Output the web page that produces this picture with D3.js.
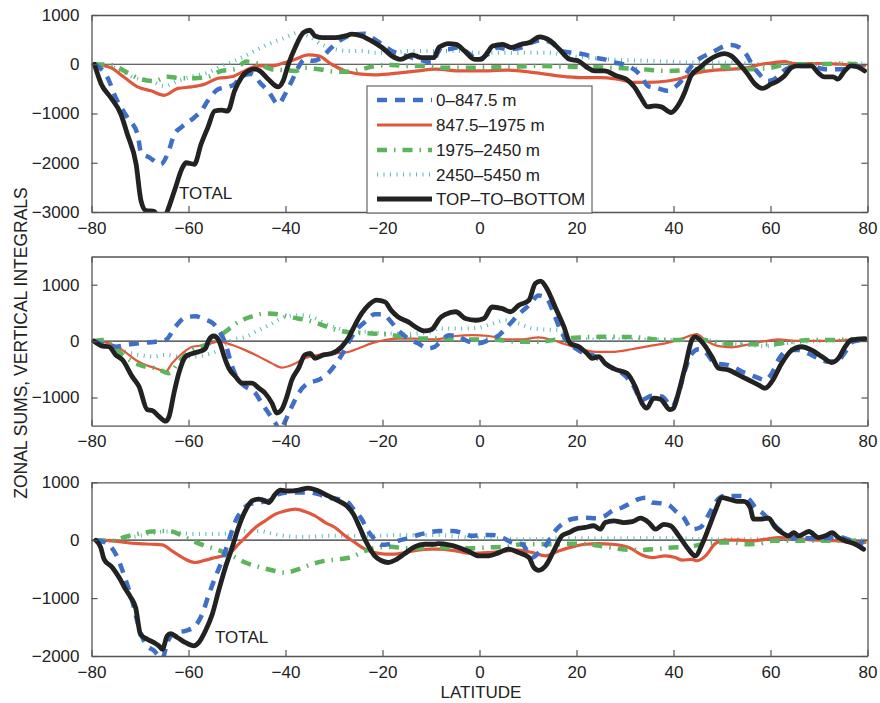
<!DOCTYPE html>
<html>
<head>
<meta charset="utf-8">
<script src="https://cdn.jsdelivr.net/npm/d3@7"></script>
<style>
  html, body { margin: 0; padding: 0; background: #ffffff; }
  svg { display: block; font-family: "Liberation Sans", Arial, Helvetica, sans-serif; }
</style>
</head>
<body>
<svg id="chart" width="880" height="703"></svg>
<script>
// ---------------- DATA ----------------
const seriesNames = ["0\u2013847.5 m", "847.5\u20131975 m", "1975\u20132450 m", "2450\u20135450 m", "TOP\u2013TO\u2013BOTTOM"];
const xTicks = [-80, -60, -40, -20, 0, 20, 40, 60, 80];
const p1Ticks = [1000, 0, -1000, -2000, -3000];
const p2Ticks = [1000, 0, -1000];
const p3Ticks = [1000, 0, -1000, -2000];
const p1Domain = [-3000, 1000];
const p2Domain = [-1500, 1500];
const p3Domain = [-2000, 1000];

// Panel 1 [latitude, value]
const p1Blue = [[-79.4,0],[-76.7,-270],[-75,-680],[-72.6,-1080],[-70.5,-1420],[-69.8,-1790],[-68.1,-1890],[-65.7,-2030],[-64.3,-1820],[-62.9,-1420],[-61.5,-1280],[-58.8,-1080],[-57.4,-950],[-56,-740],[-53.9,-510],[-51.9,-460],[-50.5,-405],[-49.1,-240],[-47,-200],[-45,-405],[-43.6,-540],[-41.5,-810],[-40.1,-610],[-38.7,-340],[-37.4,-70],[-36,100],[-34.3,70],[-32.6,135],[-30.5,340],[-28.4,505],[-25.7,610],[-23.6,620],[-22.2,540],[-20.1,405],[-18.1,270],[-16,200],[-13.9,135],[-11.9,80],[-9.8,35],[-8.4,270],[-7.9,340],[-6.5,305],[-4.5,340],[-2.4,235],[-0.3,100],[1.7,200],[3.8,340],[5.8,305],[8.6,340],[10.7,440],[12.7,490],[14.8,440],[16.8,270],[19.2,235],[21.6,200],[23.7,135],[25.8,100],[27.8,35],[29.6,0],[31.3,-70],[33.3,-235],[34.7,-440],[36.8,-490],[38.8,-540],[40.2,-470],[41.6,-340],[43,-135],[44.3,35],[46.4,170],[48.5,270],[50.5,370],[51.9,390],[53.6,340],[55,200],[56.4,-35],[57.7,-200],[59.5,-340],[60.8,-305],[62.2,-170],[63.9,-70],[66.3,-35],[68.4,-35],[71.1,-100],[73.2,-100],[75.3,-100],[77.3,-35],[79.4,-70]];
const p1Red = [[-79.4,0],[-76,-70],[-73.2,-270],[-70.5,-460],[-67.7,-540],[-65,-630],[-62.2,-490],[-59.4,-460],[-56.7,-405],[-53.9,-285],[-51.2,-255],[-48.4,-135],[-45.7,-35],[-42.9,-35],[-40.1,35],[-38,100],[-35.3,190],[-33.2,170],[-30.5,0],[-27.7,-135],[-24.3,-200],[-21.5,-215],[-18.8,-200],[-16,-170],[-12.6,-135],[-9.1,-100],[-3.8,-135],[-0.3,-135],[5.8,-120],[11.3,-170],[16.2,-235],[21,-270],[25.1,-270],[28.5,-305],[32,-370],[34.7,-370],[38.8,-340],[41.6,-285],[45,-170],[48.5,-120],[51.9,-100],[55.3,-70],[58.1,0],[60.8,35],[62.9,55],[64.9,15],[67.7,15],[71.1,15],[74.6,0],[79.4,-35]];
const p1Green = [[-79.4,0],[-76,-15],[-72.6,-170],[-69.8,-305],[-67,-340],[-64.3,-255],[-61.5,-285],[-58.8,-285],[-56,-255],[-53.2,-135],[-50.5,-100],[-48,55],[-45.7,15],[-42.9,-100],[-40.1,-120],[-38,-135],[-36,-70],[-33.2,-100],[-29.8,-150],[-27,-150],[-24.3,-100],[-21.5,-35],[-18.1,-15],[-14.6,-35],[-10.5,-35],[-7.9,-70],[-1,-70],[5.8,-55],[12.7,-35],[19.6,-55],[26.5,-70],[33.3,-100],[38.8,-135],[44.3,-100],[49.8,-55],[55.3,-100],[60.1,-70],[63.6,0],[69.1,0],[74.6,15],[79.4,-15]];
const p1Cyan = [[-79.4,0],[-75.3,-70],[-71.2,-270],[-67.7,-340],[-65,-440],[-62.2,-340],[-58.8,-235],[-56,-170],[-53.2,-35],[-50.5,70],[-47,235],[-43.6,405],[-40.1,540],[-37.4,640],[-35.3,575],[-32.6,405],[-29.8,305],[-27,270],[-24.3,270],[-21.5,235],[-18.1,235],[-14.6,270],[-10.5,270],[-7.9,270],[-3.8,270],[-1,235],[2.4,235],[5.8,235],[10,235],[14.1,235],[18.2,170],[22.3,135],[26.5,100],[30.6,80],[34.7,70],[38.8,55],[43,35],[47.1,35],[51.2,35],[55.3,15],[60.1,0],[64.9,0],[70.4,0],[74.6,15],[79.4,15]];
const p1Black = [[-79.4,0],[-78,-400],[-76,-680],[-74,-1000],[-72.6,-1420],[-70.8,-2030],[-69.8,-2770],[-68.8,-2970],[-67,-2990],[-65.7,-3300],[-64.3,-2970],[-62.9,-2570],[-61.2,-2090],[-60.5,-2000],[-58.8,-2030],[-57.4,-1620],[-56,-1280],[-54.6,-950],[-53.2,-930],[-51.9,-950],[-50.5,-540],[-49.1,-270],[-47.7,-135],[-46.3,-100],[-45.3,-135],[-43.6,-300],[-41.5,-460],[-40.5,-340],[-39.4,0],[-38,340],[-36.3,640],[-35,690],[-33.9,575],[-32.2,540],[-29.8,540],[-27.7,575],[-26.3,610],[-24.3,575],[-22.2,470],[-20.1,340],[-18.1,170],[-16.3,100],[-13.9,190],[-11.9,135],[-9.4,135],[-8.4,340],[-7.9,370],[-6.5,420],[-4.8,405],[-3.1,270],[-1,100],[0.3,100],[1.4,200],[2.7,370],[4.8,405],[6.5,340],[8.6,405],[10.3,440],[12.4,555],[14.4,490],[16.5,300],[18.6,100],[20.3,70],[22.3,-70],[23.7,-135],[25.8,-135],[28.2,-235],[30.2,-300],[32,-470],[33.3,-680],[34.7,-865],[36.1,-845],[37.5,-865],[39.5,-980],[40.9,-845],[42.3,-575],[43.6,-235],[45.4,-70],[47.1,70],[48.8,170],[50.5,215],[51.9,170],[53.6,0],[55.3,-200],[56.7,-390],[58.4,-490],[60.1,-405],[61.5,-340],[62.9,-235],[64.3,-70],[65.6,-35],[68.4,-35],[69.8,-170],[71.1,-255],[72.9,-255],[73.9,-300],[75.3,-135],[76.6,-35],[78,-55],[79.4,-135]];

// Panel 2
const p2Blue = [[-79.5,0],[-77,-70],[-75,-100],[-73,-70],[-70.2,-40],[-66.8,-10],[-64.7,20],[-62.7,255],[-60.6,420],[-58.6,440],[-56.5,380],[-55.1,325],[-53.8,195],[-52.4,-40],[-51,-455],[-49.7,-690],[-48.3,-805],[-46.2,-925],[-44.9,-1100],[-43.5,-1275],[-42.1,-1450],[-41.1,-1600],[-40.1,-1425],[-38.7,-1160],[-37.3,-925],[-35.3,-745],[-33.2,-690],[-31.2,-570],[-29.8,-425],[-28.4,-245],[-27.1,-40],[-25.7,165],[-23.6,340],[-21.6,475],[-19.9,475],[-18.2,340],[-16.8,195],[-14.7,45],[-12.7,-40],[-10.6,-130],[-9.2,-100],[-8.4,-40],[-6.3,105],[-4.3,75],[-2.2,-10],[-0.1,-40],[1.9,20],[4,105],[6,280],[8.1,475],[10.2,635],[12.2,810],[13.9,750],[15.3,490],[16.7,195],[18.1,-10],[19.8,-130],[21.8,-220],[23.2,-245],[25.3,-365],[27.3,-480],[29.4,-570],[31.4,-745],[33.5,-1040],[35.6,-970],[37.6,-980],[39.7,-1160],[41,-925],[42.4,-510],[43.8,-220],[45.2,-145],[46.5,-190],[48.6,-395],[51.3,-425],[54.1,-540],[56.8,-630],[58.9,-690],[60.3,-570],[61.6,-335],[63.7,-160],[65.8,-160],[67.8,-220],[69.9,-305],[71.9,-365],[74,-335],[75.7,-160],[77,-10],[79.5,20]];
const p2Red = [[-79.5,0],[-76.4,-40],[-73.6,-160],[-70.9,-335],[-68.8,-425],[-66.8,-480],[-64.7,-540],[-63.4,-395],[-61.3,-220],[-59.2,-100],[-56.5,-70],[-53.8,-10],[-51,-70],[-48.3,-160],[-45.5,-275],[-42.8,-395],[-40.8,-470],[-38.7,-425],[-36,-305],[-33.2,-245],[-30.5,-220],[-27.7,-205],[-25,-130],[-22.3,-40],[-19.5,20],[-16.8,45],[-13.3,45],[-9.2,30],[-4.9,90],[-1.5,105],[1.9,90],[5.4,30],[8.8,30],[12.2,65],[15,20],[17.7,-55],[20.5,-130],[23.9,-190],[27.3,-190],[31.4,-145],[34.9,-90],[38.3,-40],[41,20],[43.8,105],[44.8,125],[46.5,20],[49.3,-90],[52,-110],[54.8,-70],[58.2,-10],[61.6,30],[65.1,5],[68.5,5],[72.6,5],[76,20],[79.5,30]];
const p2Green = [[-79.5,0],[-77,20],[-74.3,-190],[-71.6,-365],[-68.8,-455],[-66.8,-480],[-64,-570],[-62,-365],[-59.2,-160],[-56.5,-70],[-54.5,20],[-52.4,165],[-49.7,340],[-46.9,440],[-44.2,490],[-41.4,475],[-38.7,420],[-36,380],[-33.2,310],[-30.5,225],[-27.7,165],[-25,145],[-22.3,135],[-19.5,120],[-16.8,90],[-12.7,45],[-9.2,45],[-4.3,30],[0,30],[4,20],[8.1,-10],[12.2,-10],[16.3,30],[20.5,65],[24.6,75],[28.7,75],[32.8,65],[36.2,30],[40.4,20],[43.8,30],[46.5,20],[50,-40],[53.4,-55],[56.8,-55],[60.3,-55],[64.4,-10],[68.5,20],[72.6,20],[76.7,30],[79.5,30]];
const p2Cyan = [[-79.5,0],[-76.4,-70],[-73,-190],[-70.2,-245],[-67.5,-275],[-64.7,-245],[-62,-275],[-59.2,-275],[-56.5,-245],[-53.8,-160],[-51,20],[-48.3,75],[-45.5,195],[-42.8,310],[-40.1,430],[-37.3,460],[-34.6,430],[-31.8,310],[-29.1,225],[-26.4,165],[-23.6,165],[-20.9,145],[-18.2,135],[-15.4,125],[-12.7,135],[-9.9,165],[-8.4,225],[-5.6,225],[-2.9,225],[0,240],[2.6,310],[5.4,370],[8.1,310],[10.8,225],[13.6,205],[16.3,195],[19.1,45],[21.8,30],[25.9,30],[30.1,30],[34.2,30],[38.3,20],[42.4,20],[46.5,20],[50.7,-40],[54.8,-70],[58.9,-90],[63,-40],[67.1,-10],[71.2,5],[75.4,20],[79.5,30]];
const p2Black = [[-79.5,0],[-77.7,-90],[-76.4,-100],[-75,-245],[-73.6,-335],[-71.6,-630],[-70.2,-805],[-68.5,-1215],[-67.5,-1230],[-66.1,-1335],[-64.7,-1420],[-64,-1335],[-63,-925],[-62,-570],[-60.6,-275],[-59.2,-220],[-57.9,-190],[-56.5,-130],[-55.8,20],[-54.8,90],[-53.8,20],[-52.4,-335],[-51.7,-480],[-50.3,-630],[-48.9,-745],[-46.9,-745],[-45.5,-835],[-44.2,-925],[-42.8,-1100],[-41.8,-1275],[-40.8,-1215],[-39.7,-980],[-38.7,-690],[-37.3,-480],[-36,-245],[-34.9,-220],[-33.9,-305],[-32.2,-245],[-30.5,-220],[-28.4,-100],[-27.1,45],[-25.7,280],[-24.3,490],[-22.9,635],[-21.2,725],[-19.5,695],[-18.2,545],[-16.8,430],[-14.7,340],[-12.7,225],[-11.3,180],[-9.9,205],[-8.9,310],[-8.4,380],[-7,475],[-4.9,520],[-2.9,400],[-0.8,370],[0.9,400],[2.6,605],[4.7,575],[6.4,520],[8.1,635],[10.2,725],[11.5,1020],[12.6,1065],[13.9,930],[15.6,605],[17.4,255],[18.7,-40],[20.5,-100],[22.2,-220],[23.2,-305],[24.6,-275],[25.9,-395],[28,-500],[30.4,-570],[32.1,-805],[33.5,-1100],[34.5,-1190],[35.9,-1010],[37.3,-1030],[39.3,-1215],[40,-1190],[41,-925],[42.4,-455],[43.8,20],[44.5,75],[45.8,-10],[47.9,-275],[49.3,-480],[51.3,-510],[53.4,-600],[55.5,-690],[57.5,-775],[58.9,-835],[60.3,-715],[62.3,-395],[64.4,-160],[66.4,-100],[68.5,-160],[70.6,-275],[72.6,-380],[74,-305],[75.4,-100],[76.7,20],[79.5,45]];

// Panel 3
const p3Blue = [[-79.1,0],[-77.1,-40],[-75,-240],[-72.9,-700],[-71.6,-1050],[-70.2,-1510],[-68.8,-1800],[-67.1,-1910],[-65.4,-2050],[-64.4,-1770],[-62.7,-1595],[-60.6,-1565],[-58.6,-1480],[-57.2,-1280],[-55.8,-935],[-54.5,-645],[-53.1,-355],[-51.7,-10],[-50.3,335],[-49,505],[-47.6,620],[-45.5,650],[-43.5,680],[-41.4,795],[-39.4,825],[-37.3,825],[-35.3,825],[-33.2,795],[-31.2,735],[-29.1,710],[-27.1,650],[-25.7,505],[-24.3,365],[-23,160],[-21.6,15],[-20.2,-80],[-18.8,-70],[-16.8,-10],[-14.7,35],[-12.7,90],[-10.6,130],[-8.4,160],[-5.6,160],[-3.6,130],[-1.5,75],[0.2,90],[2.6,90],[4.7,45],[6.7,-40],[8.8,-70],[10.9,-300],[12.2,-215],[13.6,-100],[15.3,130],[17,275],[19.1,365],[21.8,390],[23.9,380],[25.9,420],[27.3,505],[29.4,565],[31.1,635],[32.8,710],[34.2,735],[35.6,650],[37.6,635],[39,610],[40.4,505],[42.1,390],[43.8,190],[45.5,220],[47.3,450],[48.6,650],[50.3,765],[52.1,765],[53.8,765],[55.2,735],[56.9,565],[58.6,450],[60,335],[61.7,190],[63.7,75],[65.8,35],[68.5,35],[71.3,35],[74,60],[76.8,-10],[79.2,-60]];
const p3Red = [[-79.1,0],[-75.7,-10],[-73,-40],[-70.2,-60],[-67.5,-70],[-65.4,-80],[-63.4,-185],[-60.6,-330],[-58.6,-385],[-56.5,-345],[-54.5,-300],[-52.4,-255],[-51,-185],[-49.7,-70],[-48.3,45],[-46.2,220],[-44.2,335],[-42.1,450],[-40.1,505],[-38,535],[-36,495],[-33.9,420],[-31.8,305],[-29.8,220],[-27.7,75],[-25.7,-40],[-23.6,-155],[-21.6,-215],[-19.5,-240],[-17.5,-240],[-15.4,-215],[-12.7,-170],[-9.9,-155],[-8.4,-155],[-4.9,-185],[-1.5,-230],[1.9,-215],[5.4,-185],[8.1,-170],[10.9,-215],[13.6,-270],[16.3,-185],[19.1,-115],[21.8,-70],[24.6,-60],[27.3,-70],[30.8,-125],[33.5,-255],[35.6,-300],[38.3,-270],[40.4,-300],[41.8,-345],[43.8,-330],[44.8,-355],[46.6,-270],[48.6,-60],[50.7,0],[53.4,0],[56.2,-10],[58.9,15],[61.7,45],[64.4,35],[67.2,15],[70.6,0],[74,-10],[76.8,-40],[79.5,-40]];
const p3Green = [[-79.1,0],[-75.7,-10],[-73,60],[-70.2,115],[-67.5,150],[-65.4,160],[-63.4,150],[-61.3,75],[-59.2,-10],[-56.5,-100],[-53.8,-170],[-51,-270],[-48.3,-385],[-45.5,-460],[-42.8,-520],[-40.1,-560],[-37.3,-500],[-34.6,-415],[-31.8,-355],[-29.1,-330],[-26.4,-290],[-23.6,-185],[-20.9,-125],[-18.2,-115],[-15.4,-140],[-12.7,-140],[-9.2,-115],[-4.9,-140],[-1.5,-140],[1.9,-125],[5.4,-115],[8.8,-70],[12.2,-70],[15.7,-70],[19.1,-60],[22.5,-70],[26,-115],[29.4,-155],[32.8,-170],[36.3,-155],[39.7,-125],[43.1,-115],[46.6,-60],[49.3,-40],[52.1,-40],[54.8,-70],[57.6,-60],[60.3,-10],[63.7,-10],[67.2,-10],[70.6,-10],[74,-10],[77.5,-10],[79.5,-10]];
const p3Cyan = [[-79.1,0],[-75.7,-10],[-73,35],[-70.2,75],[-67.5,115],[-64.7,150],[-62,130],[-59.2,105],[-56.5,105],[-53.8,105],[-51,130],[-48.3,160],[-45.5,160],[-42.8,115],[-40.1,75],[-37.3,60],[-34.6,60],[-31.8,75],[-29.1,75],[-26.4,75],[-23.6,75],[-20.9,75],[-18.2,90],[-15.4,90],[-12.7,90],[-9.2,90],[-4.3,60],[0,35],[4,35],[8.1,15],[12.2,15],[16.3,35],[20.5,35],[24.6,35],[28.7,35],[32.8,35],[37,35],[41.1,35],[45.2,15],[49.3,15],[53.4,15],[57.6,15],[61.7,15],[65.8,15],[69.9,15],[74,15],[79.5,0]];
const p3Black = [[-79.1,0],[-78.1,-125],[-77.4,-330],[-75.7,-470],[-74.3,-645],[-73,-845],[-71.9,-990],[-70.9,-1165],[-69.9,-1625],[-68.5,-1710],[-67.1,-1770],[-66.1,-1825],[-65.4,-1885],[-64.4,-1655],[-63.7,-1615],[-62.3,-1680],[-60.6,-1770],[-58.9,-1825],[-57.9,-1770],[-56.5,-1565],[-55.1,-1280],[-53.8,-875],[-52.4,-470],[-51,-125],[-49.7,220],[-48.3,505],[-46.9,680],[-45.5,710],[-44.2,680],[-43.5,650],[-42.1,795],[-41.1,865],[-39.4,850],[-37.3,865],[-35.3,900],[-33.2,850],[-31.2,765],[-29.1,680],[-27.4,595],[-26,450],[-24.7,220],[-23.3,-40],[-21.6,-270],[-20.2,-355],[-18.8,-385],[-17.1,-330],[-15.4,-230],[-13.4,-115],[-11.3,-70],[-9.2,-70],[-8.4,-60],[-6.3,-80],[-4.3,-125],[-2.2,-195],[-0.1,-270],[1.9,-270],[4,-215],[6,-155],[8.1,-215],[10.2,-300],[11.2,-470],[12.2,-520],[13.6,-445],[15.3,-185],[17,75],[18.4,130],[19.8,190],[21.8,220],[23.5,250],[24.9,190],[25.9,305],[27.7,335],[29.7,305],[31.5,320],[33.2,380],[34.9,305],[36.3,190],[38,275],[39.4,250],[41.1,75],[42.8,-125],[44.5,-270],[45.9,-70],[47.3,220],[48.6,505],[50,735],[51.4,710],[53.1,670],[54.5,670],[55.8,565],[56.5,365],[57.9,365],[59.6,380],[61,220],[62.4,130],[63.7,75],[64.8,130],[65.8,75],[67.9,150],[69.9,45],[71.3,75],[72.7,130],[74,45],[75.4,-10],[77.5,-70],[79.2,-155]];

// ---------------- STYLES ----------------
const styles = [
  { color: "#3f6fc6", width: 4.5, dash: "10,8" },          // 0-847.5 (blue dashed)
  { color: "#e0583c", width: 3.2, dash: null },             // 847.5-1975 (red)
  { color: "#5cb45c", width: 4.5, dash: "10,7,1.5,7" },     // 1975-2450 (green dash-dot)
  { color: "#55b9bd", width: 4, dash: "1,5.5" },            // 2450-5450 (cyan dotted)
  { color: "#222222", width: 4.8, dash: null }              // total (black)
];

const panels = [
  { domain: p1Domain, ticks: p1Ticks, top: 15, bottom: 212, data: [p1Blue, p1Red, p1Green, p1Cyan, p1Black], redW: 3.2 },
  { domain: p2Domain, ticks: p2Ticks, top: 256.5, bottom: 425.7, data: [p2Blue, p2Red, p2Green, p2Cyan, p2Black], redW: 2.2 },
  { domain: p3Domain, ticks: p3Ticks, top: 482.3, bottom: 656, data: [p3Blue, p3Red, p3Green, p3Cyan, p3Black], redW: 3.2 }
];

const svg = d3.select("#chart");
const x = d3.scaleLinear().domain([-80, 80]).range([91.5, 867.5]);
const drawOrder = [3, 1, 2, 0, 4];
const fontSize = 17;

panels.forEach((p, i) => {
  const y = d3.scaleLinear().domain(p.domain).range([p.bottom, p.top]);
  const g = svg.append("g");
  const clipId = "clip" + i;
  svg.append("clipPath").attr("id", clipId).append("rect")
    .attr("x", x.range()[0]).attr("y", p.top)
    .attr("width", x.range()[1] - x.range()[0]).attr("height", p.bottom - p.top);

  // zero line
  g.append("line").attr("x1", x(-80)).attr("x2", x(80)).attr("y1", y(0)).attr("y2", y(0))
    .attr("stroke", "#333").attr("stroke-width", 1.2);

  const lines = g.append("g").attr("clip-path", `url(#${clipId})`);
  const lineGen = d3.line().x(d => x(d[0])).y(d => y(d[1])).curve(d3.curveMonotoneX);
  drawOrder.forEach(si => {
    const s = styles[si];
    lines.append("path").datum(p.data[si])
      .attr("d", lineGen)
      .attr("fill", "none")
      .attr("stroke", s.color)
      .attr("stroke-width", si === 1 ? p.redW : s.width)
      .attr("stroke-dasharray", s.dash)
      .attr("stroke-linejoin", "round")
      .attr("stroke-linecap", si === 4 || si === 1 ? "round" : "butt");
  });

  // axes (box, inward ticks)
  const tl = 6;
  const bottomAxis = d3.axisBottom(x).tickValues(xTicks).tickSizeInner(-tl).tickSizeOuter(0).tickPadding(9)
    .tickFormat(d => d < 0 ? "\u2212" + Math.abs(d) : String(d));
  const topAxis = d3.axisTop(x).tickValues(xTicks).tickSizeInner(-tl).tickSizeOuter(0).tickFormat("");
  const leftAxis = d3.axisLeft(y).tickValues(p.ticks).tickSizeInner(-tl).tickSizeOuter(0).tickPadding(12)
    .tickFormat(d => d < 0 ? "\u2212" + Math.abs(d) : String(d));
  const rightAxis = d3.axisRight(y).tickValues(p.ticks).tickSizeInner(-tl).tickSizeOuter(0).tickFormat("");

  const ab = g.append("g").attr("transform", `translate(0,${p.bottom})`).call(bottomAxis);
  const at = g.append("g").attr("transform", `translate(0,${p.top})`).call(topAxis);
  const al = g.append("g").attr("transform", `translate(${x.range()[0]},0)`).call(leftAxis);
  const ar = g.append("g").attr("transform", `translate(${x.range()[1]},0)`).call(rightAxis);
  [ab, at, al, ar].forEach(a => {
    a.select(".domain").attr("stroke", "#555").attr("stroke-width", 1.3);
    a.selectAll(".tick line").attr("stroke", "#555").attr("stroke-width", 1.2);
    a.selectAll("text").attr("font-size", fontSize).attr("fill", "#222")
      .attr("font-family", "'Liberation Sans', Arial, sans-serif");
  });
  ab.selectAll(".tick text").attr("dy", "0.75em");
});

// TOTAL annotations
svg.append("text").attr("x", 179).attr("y", 199).text("TOTAL")
  .attr("font-size", fontSize).attr("fill", "#222");
svg.append("text").attr("x", 215).attr("y", 643).text("TOTAL")
  .attr("font-size", fontSize).attr("fill", "#222");

// Legend
const lg = svg.append("g");
lg.append("rect").attr("x", 367).attr("y", 86).attr("width", 225).attr("height", 127)
  .attr("fill", "#fff").attr("stroke", "#666").attr("stroke-width", 1.2);
const rowY = [100, 125, 150, 174.5, 199];
seriesNames.forEach((name, i) => {
  const s = styles[i];
  lg.append("line").attr("x1", 377).attr("x2", 432).attr("y1", rowY[i]).attr("y2", rowY[i])
    .attr("stroke", s.color).attr("stroke-width", s.width)
    .attr("stroke-dasharray", s.dash);
  lg.append("text").attr("x", 436).attr("y", rowY[i]).attr("dy", "0.36em")
    .attr("font-size", fontSize).attr("fill", "#222").text(name);
});

// Axis titles
svg.append("text").attr("x", 481).attr("y", 698).attr("text-anchor", "middle")
  .attr("font-size", fontSize).attr("fill", "#222").text("LATITUDE");
svg.append("text").attr("transform", "translate(27,343) rotate(-90)").attr("text-anchor", "middle")
  .attr("font-size", 17.5).attr("fill", "#222").text("ZONAL SUMS, VERTICAL INTEGRALS");
</script>
</body>
</html>
